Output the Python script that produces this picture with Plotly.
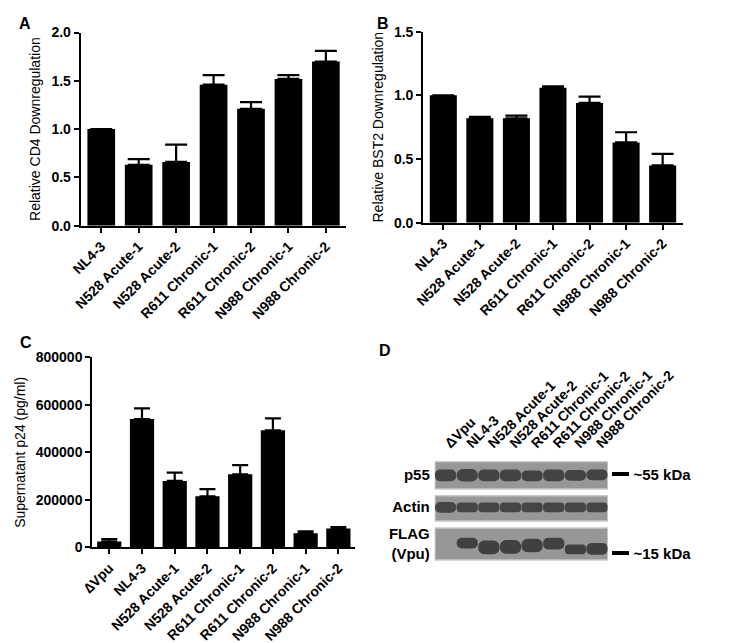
import plotly.graph_objects as go

W, H = 750, 643

# ---------------- data ----------------
cats_ab = ["NL4-3", "N528 Acute-1", "N528 Acute-2", "R611 Chronic-1",
           "R611 Chronic-2", "N988 Chronic-1", "N988 Chronic-2"]
cd4_mean = [1.00, 0.63, 0.66, 1.46, 1.21, 1.52, 1.70]
cd4_err = [0.00, 0.06, 0.18, 0.10, 0.07, 0.04, 0.11]

bst2_mean = [1.00, 0.82, 0.82, 1.06, 0.94, 0.63, 0.45]
bst2_err = [0.00, 0.01, 0.02, 0.01, 0.05, 0.08, 0.09]

cats_c = ["\u2206Vpu", "NL4-3", "N528 Acute-1", "N528 Acute-2", "R611 Chronic-1",
          "R611 Chronic-2", "N988 Chronic-1", "N988 Chronic-2"]
p24_mean = [25000, 540000, 280000, 215000, 308000, 493000, 60000, 80000]
p24_err = [10000, 45000, 35000, 30000, 38000, 50000, 8000, 6000]

# western blot (panel D): lanes, strips and band positions (gel units)
lanes_d = ["\u0394Vpu", "NL4-3", "N528 Acute-1", "N528 Acute-2", "R611 Chronic-1",
           "R611 Chronic-2", "N988 Chronic-1", "N988 Chronic-2"]
row_names = ["p55", "Actin", "FLAG<br>(Vpu)"]
row_label_pos = [90, 57, 19]
strip_bottom = [75, 42, 2]
strip_height = [28, 26, 33]
p55_center = [89, 89, 89, 89, 88.5, 89, 89, 89.5]
p55_height = [12, 13, 12, 12, 11, 12, 11, 11]
actin_center = [56] * 8
actin_height = [11, 10, 10, 10, 10, 10, 10, 10]
flag_center = [None, 19.5, 15, 15.5, 17, 19, 13, 13.5]
flag_height = [None, 11, 14, 14, 14, 12, 10, 12]
kda_pos = [90, 9]
kda_text = ["~55 kDa", "~15 kDa"]

FONT = "Liberation Sans, Arial, sans-serif"
BLACK = "#000000"

fig = go.Figure()

def bar_trace(cats, vals, errs, xa, ya, capw):
    return go.Bar(
        x=cats, y=vals, xaxis=xa, yaxis=ya, width=0.74,
        marker=dict(color=BLACK, line=dict(width=0)),
        error_y=dict(type="data", symmetric=False, array=errs,
                     arrayminus=[0] * len(errs), color=BLACK,
                     thickness=2.2, width=capw),
        showlegend=False, hoverinfo="skip")

fig.add_trace(bar_trace(cats_ab, cd4_mean, cd4_err, "x", "y", 11))
fig.add_trace(bar_trace(cats_ab, bst2_mean, bst2_err, "x2", "y2", 11))
fig.add_trace(bar_trace(cats_c, p24_mean, p24_err, "x3", "y3", 8))

# blot strips
lane_idx = list(range(len(lanes_d)))
mid = sum(lane_idx) / len(lane_idx)
fig.add_trace(go.Bar(
    x=[mid] * len(strip_bottom), base=strip_bottom, y=strip_height,
    width=len(lanes_d), xaxis="x4", yaxis="y4",
    marker=dict(color="#979797", line=dict(color="#c8c8c8", width=1.5)),
    showlegend=False, hoverinfo="skip"))

def band_trace(center, height, color):
    base = [None if c is None else c - h / 2 for c, h in zip(center, height)]
    return go.Bar(
        x=lane_idx, base=base, y=height, width=0.98, xaxis="x4", yaxis="y4",
        marker=dict(color=color, line=dict(width=0), cornerradius=6),
        showlegend=False, hoverinfo="skip")

fig.add_trace(band_trace(p55_center, p55_height, "#434343"))
fig.add_trace(band_trace(actin_center, actin_height, "#454545"))
fig.add_trace(band_trace(flag_center, flag_height, "#404040"))
# anchor for the kDa marker axis
fig.add_trace(go.Scatter(x=[None], y=[None], xaxis="x4", yaxis="y5",
                         mode="markers", showlegend=False, hoverinfo="skip"))

def px_x(a, b):
    return [a / W, b / W]

def px_y(bottom, top):
    return [1 - bottom / H, 1 - top / H]

tickfont = dict(family=FONT, size=14, color=BLACK, weight="bold")
titlefont = dict(family=FONT, size=14, color=BLACK)

def xcat(domain, anchor, rng):
    return dict(domain=domain, anchor=anchor, range=rng, type="category",
                showline=True, linecolor=BLACK, linewidth=2,
                ticks="outside", ticklen=5, tickwidth=2, tickcolor=BLACK,
                tickangle=-45, tickfont=tickfont, showgrid=False, zeroline=False,
                fixedrange=True)

def yval(domain, anchor, rng, dtick, title, fmt):
    return dict(domain=domain, anchor=anchor, range=rng, dtick=dtick, tick0=0,
                tickformat=fmt, showline=True, linecolor=BLACK, linewidth=2,
                ticks="outside", ticklen=5, tickwidth=2, tickcolor=BLACK,
                tickfont=tickfont, showgrid=False, zeroline=False,
                title=dict(text=title, font=titlefont, standoff=7))

fig.update_layout(
    width=W, height=H, margin=dict(l=0, r=0, t=0, b=0),
    paper_bgcolor="white", plot_bgcolor="white",
    barmode="overlay", font=dict(family=FONT, color=BLACK),
    xaxis=xcat(px_x(68, 366), "y", [-0.55, 6.55]),
    yaxis=yval(px_y(215, 17), "x", [0, 2.0], 0.5,
               "Relative CD4 Downregulation", ".1f"),
    xaxis2=xcat(px_x(452, 743), "y2", [-0.55, 6.55]),
    yaxis2=yval(px_y(212, 16), "x2", [0, 1.5], 0.5,
                "Relative BST2 Downregulation", ".1f"),
    xaxis3=xcat(px_x(81, 376), "y3", [-0.52, 7.52]),
    yaxis3=yval(px_y(545, 350), "x3", [0, 800000], 200000,
                "Supernatant p24 (pg/ml)", "d"),
    xaxis4=dict(domain=px_x(465, 659), anchor="y4", range=[-0.5, 7.5],
                side="top", tickmode="array", tickvals=lane_idx, ticktext=lanes_d,
                tickangle=-45, ticks="", showline=False, showgrid=False,
                zeroline=False, tickfont=dict(family=FONT, size=14, color=BLACK,
                                              weight="bold")),
    yaxis4=dict(domain=px_y(560, 450), anchor="x4", range=[0, 110],
                tickmode="array", tickvals=row_label_pos, ticktext=row_names,
                ticks="", showline=False, showgrid=False, zeroline=False,
                ticklabelstandoff=4,
                tickfont=dict(family=FONT, size=15, color=BLACK, weight="bold")),
    yaxis5=dict(overlaying="y4", side="right", anchor="free", position=662 / W,
                range=[0, 110], tickmode="array", tickvals=kda_pos,
                ticktext=kda_text, ticks="outside", ticklen=17, tickwidth=4,
                tickcolor=BLACK, showline=False, showgrid=False, zeroline=False,
                ticklabelstandoff=2,
                tickfont=dict(family=FONT, size=15, color=BLACK, weight="bold")),
)

letters = [("A", 6, 8), ("B", 407, 8), ("C", 7, 335), ("D", 409, 343)]
for t, x, y in letters:
    fig.add_annotation(text=t, x=x / W, y=1 - y / H, xref="paper", yref="paper",
                       showarrow=False, xanchor="center", yanchor="middle",
                       font=dict(family=FONT, size=16, color=BLACK, weight="bold"))

fig.write_html("out.html")
